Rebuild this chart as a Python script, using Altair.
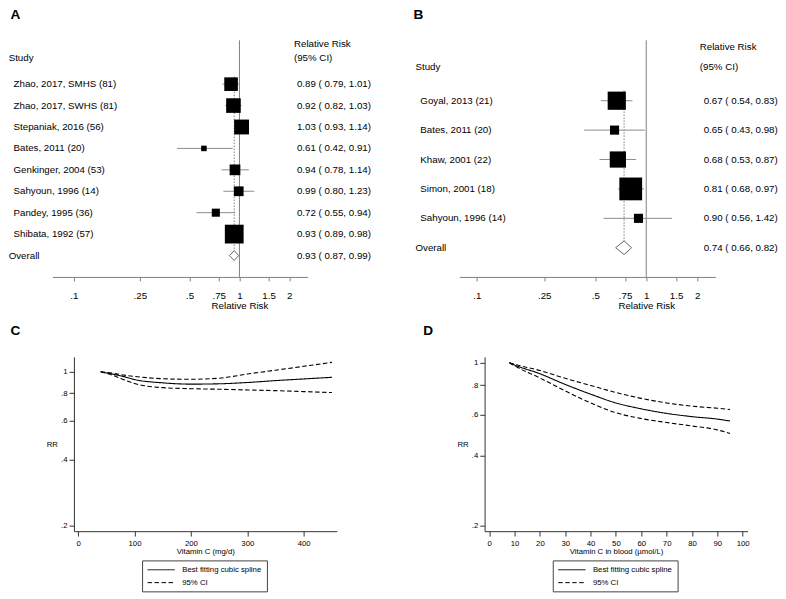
import altair as alt
import pandas as pd

# ---------------- data ----------------
panel_tags = ["A", "B", "C", "D"]

a_study = ["Zhao, 2017, SMHS (81)", "Zhao, 2017, SWHS (81)", "Stepaniak, 2016 (56)",
           "Bates, 2011 (20)", "Genkinger, 2004 (53)", "Sahyoun, 1996 (14)",
           "Pandey, 1995 (36)", "Shibata, 1992 (57)"]
a_rr = [0.89, 0.92, 1.03, 0.61, 0.94, 0.99, 0.72, 0.93]
a_lo = [0.79, 0.82, 0.93, 0.42, 0.78, 0.80, 0.55, 0.89]
a_hi = [1.01, 1.03, 1.14, 0.91, 1.14, 1.23, 0.94, 0.98]
a_weight = [14.5, 16.7, 17.3, 2.4, 9.0, 7.4, 5.1, 27.6]
a_overall = [0.93, 0.87, 0.99]

b_study = ["Goyal, 2013 (21)", "Bates, 2011 (20)", "Khaw, 2001 (22)",
           "Simon, 2001 (18)", "Sahyoun, 1996 (14)"]
b_rr = [0.67, 0.65, 0.68, 0.81, 0.90]
b_lo = [0.54, 0.43, 0.53, 0.68, 0.56]
b_hi = [0.83, 0.98, 0.87, 0.97, 1.42]
b_weight = [25.9, 6.5, 20.6, 40.6, 6.5]
b_overall = [0.74, 0.66, 0.82]

rr_ticks = [0.1, 0.25, 0.5, 0.75, 1, 1.5, 2]
rr_y_ticks = [0.2, 0.4, 0.6, 0.8, 1]

c_x = [40, 60, 80, 100, 150, 200, 250, 300, 350, 400, 450]
c_fit = [1.0, 0.977, 0.953, 0.922, 0.891, 0.879, 0.882, 0.894, 0.912, 0.928, 0.944]
c_hi = [1.0, 0.986, 0.967, 0.953, 0.930, 0.925, 0.935, 0.977, 1.017, 1.059, 1.104]
c_lo = [1.0, 0.967, 0.922, 0.885, 0.847, 0.838, 0.833, 0.827, 0.821, 0.813, 0.805]
c_ticks = [0, 100, 200, 300, 400]

d_x = [8, 10, 20, 30, 40, 50, 60, 70, 80, 90, 95]
d_fit = [1.0, 0.978, 0.897, 0.807, 0.733, 0.672, 0.634, 0.606, 0.587, 0.573, 0.562]
d_hi = [1.0, 0.985, 0.926, 0.857, 0.799, 0.745, 0.703, 0.672, 0.651, 0.638, 0.630]
d_lo = [1.0, 0.970, 0.860, 0.757, 0.672, 0.610, 0.576, 0.554, 0.535, 0.515, 0.497]
d_ticks = [0, 10, 20, 30, 40, 50, 60, 70, 80, 90, 100]

line_types = ["Best fitting cubic spline", "95% CI"]

# ---------------- layout / style ----------------
S = 0.975            # whole figure scaled so that it fits the page without overflow
FONT = "Liberation Sans"
GRAY = "#808080"
DIAMOND_HALF = 0.23
LABEL_EXPR = "replace(format(datum.value, '~g'), '0.', '.')"


def P(v):
    return round(v * S, 2)


F10, F8, F14 = P(10), P(8), P(14)

LA = dict(ox=67, oy=35, W=240, H=243, one=237, dec=170, ax_l=45, ax_r=307, row0=80, dy=22,
          name_x=5, ov_x=0, rr_x=296, head_x=293, head1_y=39, head2_y=53, tag_x=2, tag_y=2.3, area=13.48)
LB = dict(ox=488, oy=35, W=237, H=243, one=654, dec=174, ax_l=462, ax_r=725, row0=97, dy=30.2,
          name_x=422, ov_x=417, rr_x=713, head_x=709, head1_y=42, head2_y=62, tag_x=415, tag_y=2.3, area=17.56)
LC = dict(ox=67, oy=360, W=270, H=179, xd=[-7.5, 458.7], yd=[0.1887, 1.169], tag_x=2, tag_y=326)
LD = dict(ox=488, oy=360, W=270, H=179, xd=[-1.8, 101.9], yd=[0.1893, 1.0594], tag_x=425, tag_y=326)
COL_GAP = 151
ROW_GAP = 82


def note(text, x, y, **kw):
    props = dict(align="left", baseline="middle", fontSize=F10, color="black")
    props.update(kw)
    return alt.Chart(pd.DataFrame({"t": [text]})).mark_text(**props).encode(
        text="t:N", x=alt.value(x), y=alt.value(y))


def rr_text(e, l, h):
    return f"{e:.2f} ( {l:.2f}, {h:.2f})"


def forest(L, tag, studies, rr, lo, hi, wt, ov):
    n = len(studies)
    ox, oy, W, H = L["ox"], L["oy"], L["W"], L["H"]
    d0 = 10 ** ((L["ax_l"] - L["one"]) / L["dec"])
    d1 = 10 ** ((L["ax_r"] - L["one"]) / L["dec"])
    xs = alt.Scale(type="log", domain=[d0, d1],
                   range=[P(L["ax_l"] - ox), P(L["ax_r"] - ox)], nice=False)
    r0 = L["row0"] - oy
    ys = alt.Scale(domain=[-r0 / L["dy"], (H - r0) / L["dy"]], reverse=True, nice=False, zero=False)
    xaxis = alt.Axis(values=rr_ticks, labelExpr=LABEL_EXPR, title="Relative Risk",
                     titleX=P(L["one"] - ox), titleY=P(29), titleAlign="center", titleBaseline="middle",
                     titleFontSize=F10, titleFontWeight="normal", titleColor="black",
                     labelFontSize=F10, labelColor="black", labelPadding=P(10), tickSize=P(4),
                     domainColor=GRAY, tickColor=GRAY, grid=False, labelFlush=False, labelOverlap=False)

    def X(f):
        return alt.X(f, type="quantitative", scale=xs, axis=xaxis)

    def Y(f):
        return alt.Y(f, type="quantitative", scale=ys, axis=None)

    sd = pd.DataFrame({"label": studies, "row": list(range(n)), "rr": rr, "lo": lo, "hi": hi, "wt": wt})
    od = pd.DataFrame({"label": ["Overall"], "row": [n], "rr": [ov[0]], "lo": [ov[1]], "hi": [ov[2]],
                       "top": [-0.35], "bot": [n - DIAMOND_HALF]})
    td = pd.DataFrame({"row": list(range(n + 1)),
                       "txt": [rr_text(*t) for t in zip(rr + [ov[0]], lo + [ov[1]], hi + [ov[2]])]})
    dd = pd.DataFrame({"x": [ov[1], ov[0], ov[2], ov[0], ov[1]],
                       "y": [n, n - DIAMOND_HALF, n, n + DIAMOND_HALF, n], "k": [0, 1, 2, 3, 4]})

    one = alt.Chart(pd.DataFrame({"v": [1]})).mark_rule(color=GRAY, strokeWidth=1).encode(
        x=X("v"), y=alt.value(0), y2=alt.value(P(H)))
    ci = alt.Chart(sd).mark_rule(color="#8c8c8c", strokeWidth=1).encode(x=X("lo"), x2="hi:Q", y=Y("row"))
    dot = alt.Chart(od).mark_rule(color=GRAY, strokeWidth=1, strokeDash=[1.5, 1.5]).encode(
        x=X("rr"), y=Y("top"), y2="bot:Q")
    box = alt.Chart(sd).mark_square(color="black", opacity=1, filled=True).encode(
        x=X("rr"), y=Y("row"),
        size=alt.Size("wt:Q", scale=alt.Scale(domain=[0, 100], range=[0, 100 * L["area"] * S * S]),
                      legend=None))
    dmd = alt.Chart(dd).mark_line(color="#666666", strokeWidth=1).encode(x=X("x"), y=Y("y"), order="k:Q")
    names = alt.Chart(sd).mark_text(align="left", baseline="middle", fontSize=F10, color="black").encode(
        x=alt.value(P(L["name_x"] - ox)), y=Y("row"), text="label:N")
    ovl = alt.Chart(od).mark_text(align="left", baseline="middle", fontSize=F10, color="black").encode(
        x=alt.value(P(L["ov_x"] - ox)), y=Y("row"), text="label:N")
    vals = alt.Chart(td).mark_text(align="left", baseline="middle", fontSize=F10, color="black").encode(
        x=alt.value(P(L["rr_x"] - ox)), y=Y("row"), text="txt:N")
    h1 = note("Study", P(L["ov_x"] - ox), P(L["head2_y"] - oy))
    h2 = note("Relative Risk", P(L["head_x"] - ox), P(L["head1_y"] - oy))
    h3 = note("(95% CI)", P(L["head_x"] - ox), P(L["head2_y"] - oy))
    tg = note(tag, P(L["tag_x"] - ox), P(L["tag_y"] - oy), fontSize=F14, fontWeight="bold", baseline="top")
    return alt.layer(one, ci, dot, box, dmd, names, ovl, vals, h1, h2, h3, tg).properties(
        width=P(W), height=P(H))


def spline(L, tag, xv, fit, lo, hi, xticks, xtitle):
    recs = []
    for ser, typ, vs in (("fit", line_types[0], fit), ("lo", line_types[1], lo), ("hi", line_types[1], hi)):
        for x, v in zip(xv, vs):
            recs.append({"x": x, "rr": v, "series": ser, "type": typ})
    df = pd.DataFrame(recs)
    ox, oy, W, H = L["ox"], L["oy"], L["W"], L["H"]
    line = alt.Chart(df).mark_line(color="black", strokeWidth=1.1, interpolate="monotone").encode(
        x=alt.X("x:Q", scale=alt.Scale(domain=L["xd"], nice=False, zero=False),
                axis=alt.Axis(values=xticks, title=xtitle, titleY=P(20.5), titleBaseline="middle",
                              titleFontSize=F8, titleFontWeight="normal", titleColor="black",
                              labelFontSize=F8, labelColor="black", labelPadding=P(3.5), tickSize=P(5),
                              domainColor="#333333", tickColor="#333333", grid=False,
                              labelFlush=False, labelOverlap=False)),
        y=alt.Y("rr:Q", scale=alt.Scale(type="log", domain=L["yd"], nice=False),
                axis=alt.Axis(values=rr_y_ticks, labelExpr=LABEL_EXPR, title="RR", titleAngle=0,
                              titleX=P(-22.7), titleY=P(H / 2), titleAlign="center", titleBaseline="middle",
                              titleFontSize=F8, titleFontWeight="normal", titleColor="black",
                              labelFontSize=F8, labelColor="black", labelPadding=P(2), tickSize=P(5),
                              domainColor="#333333", tickColor="#333333", grid=False,
                              labelFlush=False, labelOverlap=False)),
        strokeDash=alt.StrokeDash(
            "type:N", scale=alt.Scale(domain=line_types, range=[[1, 0], [4.5, 2.5]]),
            legend=alt.Legend(title=None, orient="none", legendX=P(70), legendY=P(209),
                              direction="vertical", symbolType="M-1,0H6", symbolSize=P(8) ** 2,
                              symbolStrokeWidth=1, symbolStrokeColor="black",
                              labelFontSize=F8, labelColor="black", labelOffset=P(27),
                              padding=P(5), rowPadding=P(4), strokeColor="#444444", fillColor="white")),
        detail="series:N",
    )
    tg = note(tag, P(L["tag_x"] - ox), P(L["tag_y"] - oy), fontSize=F14, fontWeight="bold", baseline="top")
    return alt.layer(line, tg).properties(width=P(W), height=P(H))


A = forest(LA, panel_tags[0], a_study, a_rr, a_lo, a_hi, a_weight, a_overall)
B = forest(LB, panel_tags[1], b_study, b_rr, b_lo, b_hi, b_weight, b_overall)
C = spline(LC, panel_tags[2], c_x, c_fit, c_lo, c_hi, c_ticks, "Vitamin C (mg/d)")
D = spline(LD, panel_tags[3], d_x, d_fit, d_lo, d_hi, d_ticks, "Vitamin C in blood (µmol/L)")

chart = (
    alt.concat(A, B, C, D, columns=2,
               spacing={"row": P(ROW_GAP), "column": P(COL_GAP)}, bounds="flush")
    .resolve_legend(strokeDash="independent")
    .resolve_scale(strokeDash="independent")
    .properties(padding=0)
    .configure(font=FONT)
    .configure_view(stroke=None)
)

chart.save("out.html", embed_options={"renderer": "svg", "actions": False})
